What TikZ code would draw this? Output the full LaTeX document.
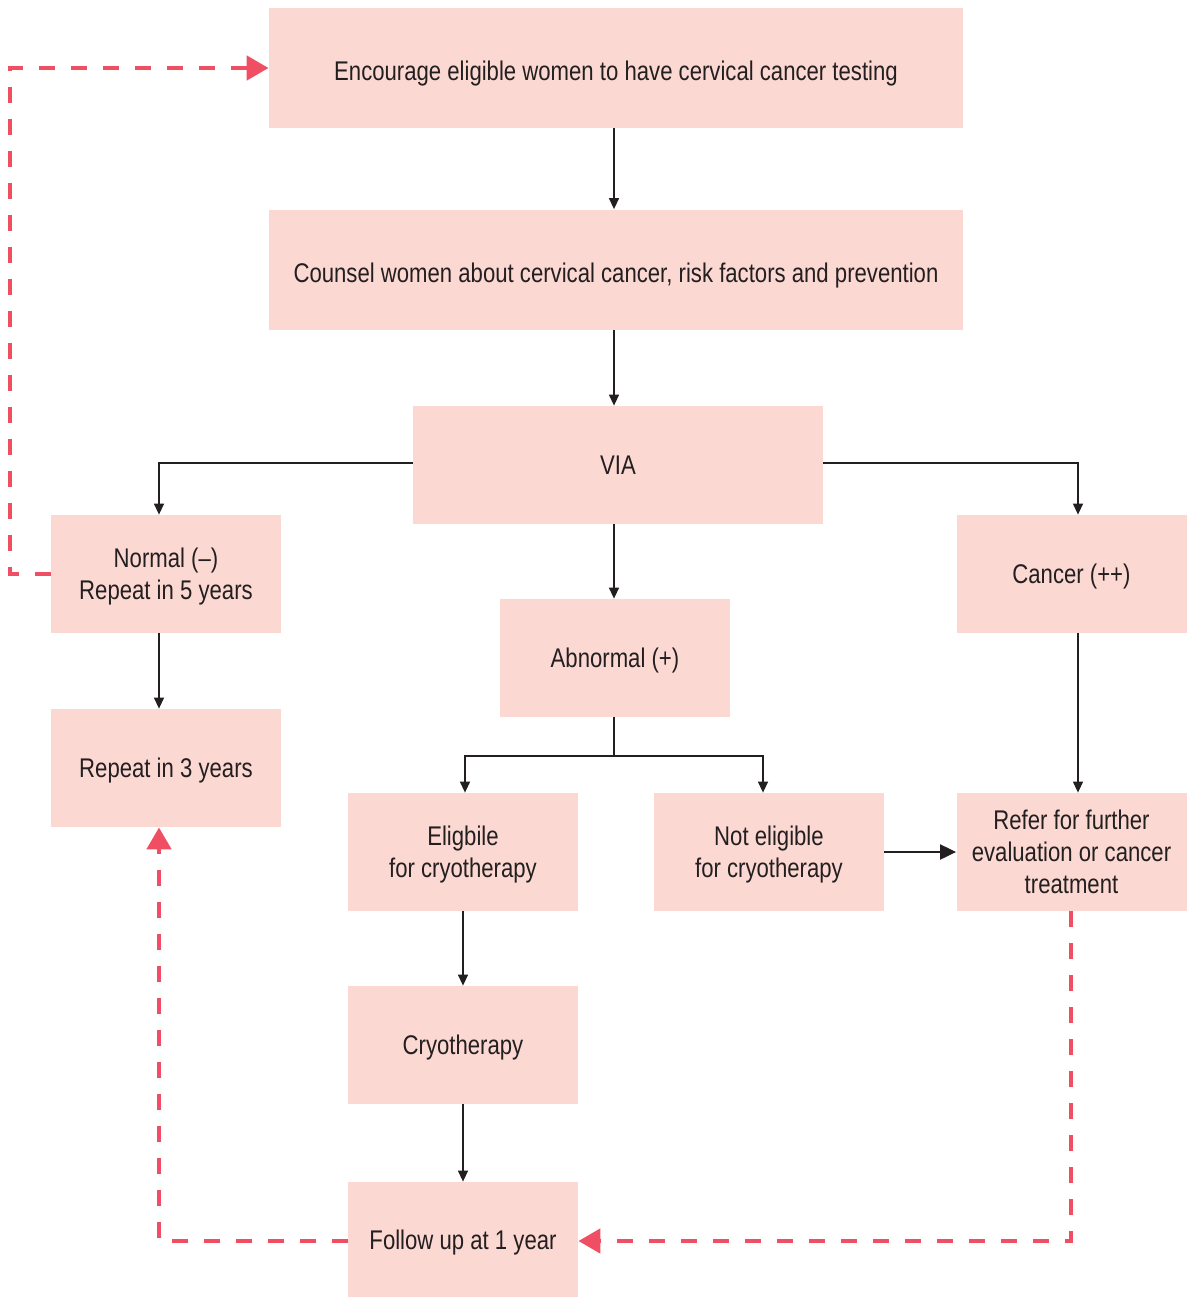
\documentclass[tikz,border=0pt]{standalone}
\usepackage{fontspec}
\setmainfont{Liberation Sans}[FakeStretch=0.82]
\usepackage{xcolor}
\usetikzlibrary{arrows.meta}
\definecolor{boxpink}{HTML}{FCD8D3}
\definecolor{loopred}{HTML}{F04E62}
\definecolor{inkgrey}{HTML}{231F20}

\begin{document}
\begin{tikzpicture}[x=0.5pt, y=-0.5pt, text=inkgrey,
		every node/.style={fill=boxpink, align=center, font=\fontsize{13.5}{16}\selectfont, inner sep=0pt, text depth=0pt},
		stage/.style={minimum width=115pt, minimum height=59pt},
		wide/.style={minimum width=347pt, minimum height=60pt, text height=13pt},
		flow/.style={draw=inkgrey, line width=0.65pt, -{Triangle[width=5pt,length=5.5pt]}},
		flowbold/.style={draw=inkgrey, line width=1pt, -{Triangle[width=7.5pt,length=8pt]}},
		loop/.style={draw=loopred, line width=2.4pt, dash pattern=on 8pt off 8pt, -{Triangle[width=12pt,length=11pt]}},
	]
	\useasboundingbox (0,0) rectangle (1187,1297);

	\node [wide] (encourage) at (616,67.5) {Encourage eligible women to have cervical cancer testing};
	\node [wide] (counsel) at (616,269.5) {Counsel women about cervical cancer, risk factors and prevention};
	\node [minimum width=205pt, minimum height=59pt] (via) at (618,465) {VIA};
	\node [stage] (normal) at (166,574) {Normal (--)\\Repeat in 5 years};
	\node [stage] (cancer) at (1071.5,574) {Cancer (++)};
	\node [stage] (abnormal) at (615,658) {Abnormal (+)};
	\node [stage] (repeat) at (166,768) {Repeat in 3 years};
	\node [stage] (eligible) at (463,852) {Eligbile\\for cryotherapy};
	\node [stage] (noteligible) at (769,852) {Not eligible\\for cryotherapy};
	\node [stage] (refer) at (1071.5,852) {Refer for further\\evaluation or cancer\\treatment};
	\node [stage] (cryo) at (463,1045) {Cryotherapy};
	\node [stage, minimum height=57.5pt] (followup) at (463,1239.5) {Follow up at 1 year};

	\coordinate (split) at (614,756);

	\draw [flow] (encourage.south -| 614,0) -- (counsel.north -| 614,0);
	\draw [flow] (counsel.south -| 614,0) -- (via.north -| 614,0);
	\draw [flow] (via.west |- 0,463) -| (normal.north -| 159,0);
	\draw [flow] (via.east |- 0,463) -| (cancer.north -| 1078,0);
	\draw [flow] (via.south -| 614,0) -- (abnormal.north -| 614,0);
	\draw [flow] (normal.south -| 159,0) -- (repeat.north -| 159,0);
	\draw [draw=inkgrey, line width=0.65pt] (abnormal.south -| split) -- (split);
	\draw [flow] (split) -| (eligible.north -| 465,0);
	\draw [flow] (split) -| (noteligible.north -| 763,0);
	\draw [flow] (eligible.south -| 463,0) -- (cryo.north -| 463,0);
	\draw [flow] (cryo.south -| 463,0) -- (followup.north -| 463,0);
	\draw [flow] (cancer.south -| 1078,0) -- (refer.north -| 1078,0);
	\draw [flowbold] (noteligible.east) -- (refer.west);

	% return loops
	\draw [loop] (normal.west) -| (10,68) -- (encourage.west |- 0,68);
	\draw [loop] (refer.south -| 1071,0) |- (followup.east |- 0,1241);
	\draw [loop] (followup.west |- 0,1241) -| (repeat.south -| 159,0);
\end{tikzpicture}
\end{document}
